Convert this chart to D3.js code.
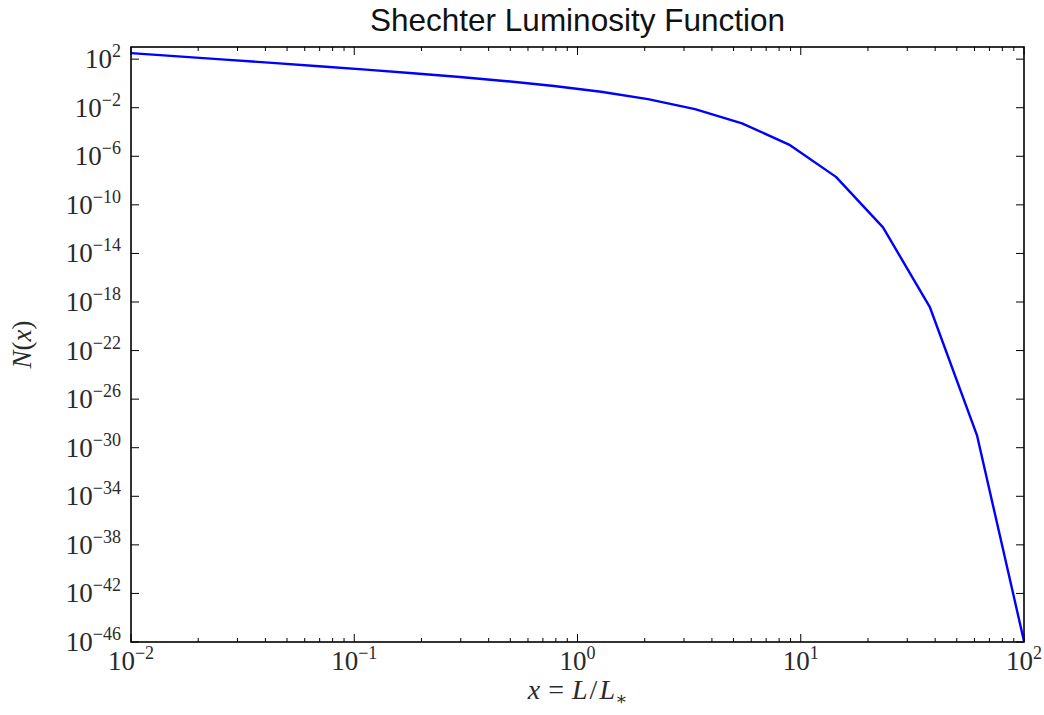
<!DOCTYPE html>
<html>
<head>
<meta charset="utf-8">
<script src="https://cdn.jsdelivr.net/npm/d3@7"></script>
<style>
  body { margin: 0; background: #fff; }
  svg { display: block; }
</style>
</head>
<body>
<div id="chart"></div>
<script>
// Data: x = L/L*, log10 N(x)
const xValues = [0.01, 0.01624, 0.02637, 0.04281, 0.06952, 0.1129, 0.1833, 0.2976,
  0.4833, 0.7848, 1.274, 2.069, 3.360, 5.456, 8.859, 14.38, 23.36, 37.93, 61.58, 100]
const logN = [2.496, 2.230, 1.962, 1.692, 1.417, 1.135, 0.841, 0.529,
  0.185, -0.209, -0.685, -1.293, -2.117, -3.290, -5.032, -7.695, -11.85, -18.45, -28.98, -45.93]
const xTickExps = [-2, -1, 0, 1, 2]
const yTickExps = [2, -2, -6, -10, -14, -18, -22, -26, -30, -34, -38, -42, -46]

// Layout
const width = 1044
const height = 715
const margin = { left: 131, right: 20, top: 47, bottom: 73 }
const plotW = width - margin.left - margin.right
const plotH = height - margin.top - margin.bottom
const plotTop = margin.top
const plotBottom = margin.top + plotH
const plotLeft = margin.left
const plotRight = margin.left + plotW

const svg = d3.select('#chart').append('svg')
  .attr('width', width)
  .attr('height', height)

const x = d3.scaleLog().domain([1e-2, 1e2]).range([plotLeft, plotRight])
// y works on log10 values since the range is too wide for plain numbers
const y = d3.scaleLinear().domain([-46, 3]).range([plotBottom, plotTop])

const g = svg.append('g')

// Minor x ticks (2..9 in each decade), both top and bottom
const minorX = []
for (let e = -2; e < 2; e++) {
  for (let m = 2; m <= 9; m++) minorX.push(m * Math.pow(10, e))
}

g.selectAll('.minor-x')
  .data(minorX)
  .enter()
  .append('path')
  .attr('d', d => `M${x(d)},${plotBottom}v-4M${x(d)},${plotTop}v4`)
  .attr('stroke', '#000')
  .attr('stroke-width', 1)

g.selectAll('.major-x')
  .data(xTickExps)
  .enter()
  .append('path')
  .attr('d', d => `M${x(Math.pow(10, d))},${plotBottom}v-8M${x(Math.pow(10, d))},${plotTop}v8`)
  .attr('stroke', '#000')
  .attr('stroke-width', 1)

g.selectAll('.major-y')
  .data(yTickExps)
  .enter()
  .append('path')
  .attr('d', d => `M${plotLeft},${y(d)}h8M${plotRight},${y(d)}h-8`)
  .attr('stroke', '#000')
  .attr('stroke-width', 1)

// Curve
const line = d3.line()
  .x((d, i) => x(xValues[i]))
  .y(d => y(d))

g.append('path')
  .datum(logN)
  .attr('d', line)
  .attr('fill', 'none')
  .attr('stroke', '#0000ff')
  .attr('stroke-width', 2.4)
  .attr('stroke-linejoin', 'round')

// Frame
g.append('rect')
  .attr('x', plotLeft)
  .attr('y', plotTop)
  .attr('width', plotW)
  .attr('height', plotH)
  .attr('fill', 'none')
  .attr('stroke', '#000')
  .attr('stroke-width', 1.6)

// Tick labels
const serif = '"Liberation Serif", "DejaVu Serif", serif'

const xLabels = svg.selectAll('.xl')
  .data(xTickExps)
  .enter()
  .append('text')
  .attr('x', d => x(Math.pow(10, d)))
  .attr('y', plotBottom + 28)
  .attr('text-anchor', 'middle')
  .style('font-family', serif)
  .style('font-size', '27px')
  .attr('fill', '#2a2a2a')
xLabels.append('tspan').text('10')
xLabels.append('tspan')
  .attr('dy', -11)
  .style('font-size', '18px')
  .text(d => d < 0 ? '\u2212' + Math.abs(d) : d)

const yLabels = svg.selectAll('.yl')
  .data(yTickExps)
  .enter()
  .append('text')
  .attr('x', plotLeft - 10)
  .attr('y', d => y(d) + 9)
  .attr('text-anchor', 'end')
  .style('font-family', serif)
  .style('font-size', '27px')
  .attr('fill', '#2a2a2a')
yLabels.append('tspan').text('10')
yLabels.append('tspan')
  .attr('dy', -11)
  .style('font-size', '18px')
  .text(d => d < 0 ? '\u2212' + Math.abs(d) : d)

// Title
svg.append('text')
  .attr('x', (plotLeft + plotRight) / 2)
  .attr('y', 31)
  .attr('text-anchor', 'middle')
  .style('font-family', '"Liberation Sans", Arial, sans-serif')
  .style('font-size', '31.5px')
  .attr('fill', '#111')
  .text('Shechter Luminosity Function')

// Axis labels
const xTitle = svg.append('text')
  .attr('x', (plotLeft + plotRight) / 2)
  .attr('y', 699)
  .attr('text-anchor', 'middle')
  .style('font-family', serif)
  .style('font-size', '28px')
  .attr('fill', '#2a2a2a')
xTitle.append('tspan').style('font-style', 'italic').text('x')
xTitle.append('tspan').attr('dx', 8).text('=')
xTitle.append('tspan').attr('dx', 8).style('font-style', 'italic').text('L')
xTitle.append('tspan').attr('dx', 2).text('/')
xTitle.append('tspan').attr('dx', 2).style('font-style', 'italic').text('L')
xTitle.append('tspan').attr('dy', 6).style('font-size', '18px').text('\u2217')

const yTitle = svg.append('text')
  .attr('transform', `translate(31, ${(plotTop + plotBottom) / 2}) rotate(-90)`)
  .attr('text-anchor', 'middle')
  .style('font-family', serif)
  .style('font-size', '27px')
  .attr('fill', '#2a2a2a')
yTitle.append('tspan').style('font-style', 'italic').text('N')
yTitle.append('tspan').text('(')
yTitle.append('tspan').style('font-style', 'italic').text('x')
yTitle.append('tspan').text(')')
</script>
</body>
</html>
